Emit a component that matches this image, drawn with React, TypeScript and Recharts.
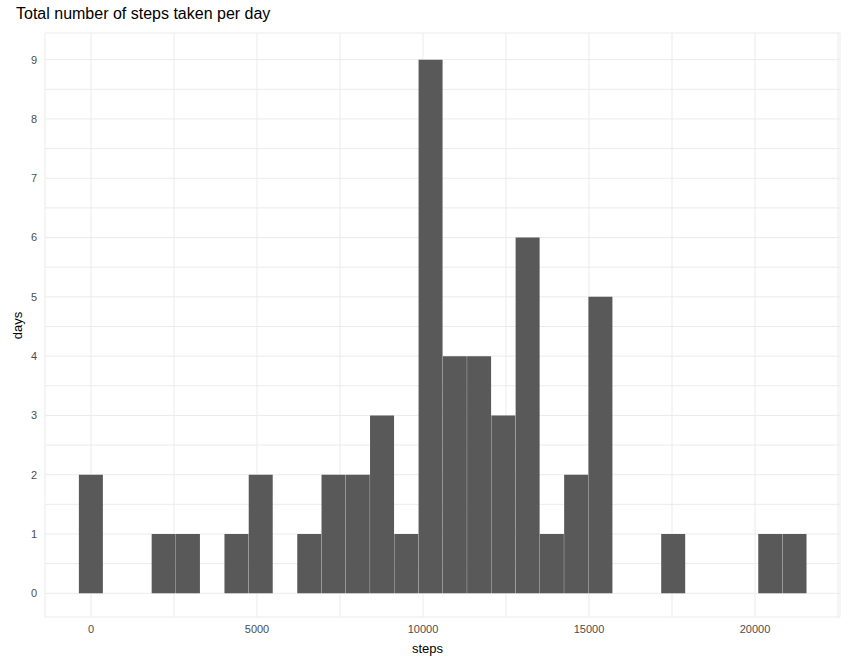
import React from 'react';
import { ComposedChart, Bar, XAxis, YAxis, CartesianGrid } from 'recharts';

const binWidth = 21194 / 29;
const counts = [2, 0, 0, 1, 1, 0, 1, 2, 0, 1, 2, 2, 3, 1, 9, 4, 4, 3, 6, 1, 2, 5, 0, 0, 1, 0, 0, 0, 1, 1];
const xTicks = [0, 2500, 5000, 7500, 10000, 12500, 15000, 17500, 20000, 22500];
const yTicks = [0, 0.5, 1, 1.5, 2, 2.5, 3, 3.5, 4, 4.5, 5, 5.5, 6, 6.5, 7, 7.5, 8, 8.5, 9];

const data = counts.map((days, i) => ({ steps: i * binWidth, days }));

const tickStyle = { fill: '#4d4d4d', fontSize: 11, fontFamily: 'Liberation Sans, Arial, sans-serif' };

const App: React.FC = () => {
  return (
    <div style={{ position: 'absolute', left: 0, top: 0, width: 852, height: 665, background: '#fff', fontFamily: 'Liberation Sans, Arial, sans-serif' }}>
      <div style={{ position: 'absolute', left: 16, top: 5, fontSize: 16, color: '#000' }}>
        Total number of steps taken per day
      </div>
      <div style={{ position: 'absolute', left: 2, top: 318, fontSize: 13, transform: 'rotate(-90deg)', transformOrigin: 'center', width: 30, textAlign: 'center' }}>
        days
      </div>
      <div style={{ position: 'absolute', left: 412, top: 641, fontSize: 13 }}>steps</div>
      <ComposedChart
        width={852}
        height={665}
        data={data}
        margin={{ top: 33, right: 12, left: 20, bottom: 18 }}
        barCategoryGap={0}
      >
        <CartesianGrid stroke="#ebebeb" />
        <XAxis
          dataKey="steps"
          type="number"
          domain={[-1386, 22560]}
          ticks={xTicks}
          interval={0}
          tickFormatter={(v: number) => (v % 5000 === 0 ? String(v) : '')}
          tick={tickStyle}
          axisLine={false}
          tickLine={false}
          height={30}
        />
        <YAxis
          type="number"
          domain={[-0.4, 9.45]}
          ticks={yTicks}
          interval={0}
          tickFormatter={(v: number) => (Number.isInteger(v) ? String(v) : '')}
          tick={tickStyle}
          axisLine={false}
          tickLine={false}
          width={25}
        />
        <Bar dataKey="days" fill="#595959" isAnimationActive={false} />
      </ComposedChart>
    </div>
  );
};

export default App;
